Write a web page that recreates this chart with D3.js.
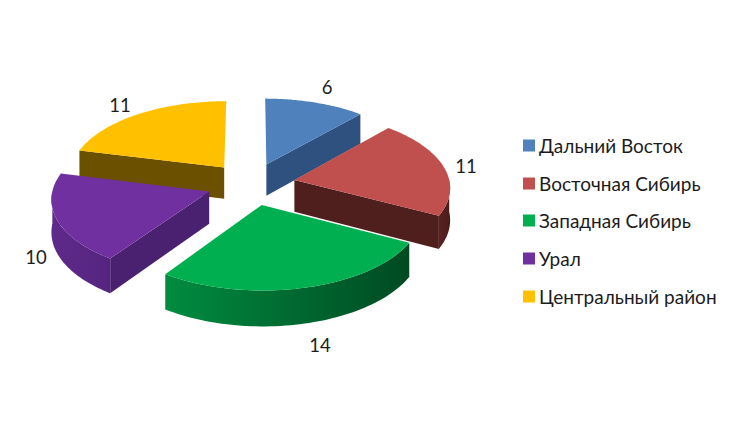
<!DOCTYPE html>
<html><head><meta charset="utf-8">
<script src="https://cdn.jsdelivr.net/npm/d3@7/dist/d3.min.js"></script>
<style>html,body{margin:0;padding:0;background:#fff}svg{display:block}text{font-family:Lato,"Noto Sans",sans-serif;fill:#1c1c1c}</style>
</head><body><svg id="c" width="732" height="438"></svg>
<script>
const categories = ["Дальний Восток","Восточная Сибирь","Западная Сибирь","Урал","Центральный район"];
const values = [6,11,14,10,11];
const topColors = ["#4f81bd","#c0504d","#00b050","#7030a0","#ffc000"];
const cutColors = ["#2f5180","#4f1f1e","#004f25","#4a2170","#6b5000"];
const arcColorsLeft = ["#2f5180","#5a2221","#008c40","#5f2a8a","#6b5000"];
const arcColorsRight = ["#2f5180","#4a1c1b","#004a22","#552480","#6b5000"];
const drawOrder = [0,4,1,3,2];
// layout
const view = {cx:251, cy:183.8, ax:155.5, ay:74.5, persp:0.085, explode:0.285, depth:32};
const labelAt = [[327,87],[466,166],[320,345],[36,257],[120,105]];
const legend = {sw:523, size:12, tx:539, ys:[145.5,183.5,220.5,258.5,296.5], font:19};

const svg = d3.select("#c");
const defs = svg.append("defs");
const project = (X,Z,drop=0)=>{
  const s = 1/(1+view.persp*Z);
  return [view.cx+X*view.ax*s, view.cy-Z*view.ay*s+drop*s];
};
const slices = d3.pie().sort(null).startAngle(0).endAngle(2*Math.PI)(values);
const line = d3.line();
slices.forEach((d,i)=>{d.i=i; const m=(d.startAngle+d.endAngle)/2;
  d.ox=view.explode*Math.sin(m); d.oz=view.explode*Math.cos(m);});
const rim=(d,a,drop=0)=>project(d.ox+Math.sin(a),d.oz+Math.cos(a),drop);
const apex=(d,drop=0)=>project(d.ox,d.oz,drop);
const sweep=(a,b)=>d3.range(0,61).map(k=>a+(b-a)*k/60);

drawOrder.forEach(idx=>{
  const d=slices[idx], g=svg.append("g");
  const a0=d.startAngle,a1=d.endAngle;
  // radial cut walls
  [a0,a1].forEach(a=>{
    const e=rim(d,a), p=apex(d);
    const facing = (a===a1 && a<Math.PI) || (a===a0 && a>Math.PI);
    if(facing) g.append("path").attr("d",line([p,e,rim(d,a,view.depth),apex(d,view.depth)])+"Z").attr("fill",cutColors[idx]);
  });
  // outer wall
  const w0=Math.max(a0,Math.PI/2), w1=Math.min(a1,1.5*Math.PI);
  if(w1>w0){
    const top=sweep(w0,w1).map(a=>rim(d,a));
    const bot=sweep(w1,w0).map(a=>rim(d,a,view.depth));
    const xs=top.map(p=>p[0]);
    const id="w"+idx;
    const gr=defs.append("linearGradient").attr("id",id).attr("gradientUnits","userSpaceOnUse")
      .attr("x1",d3.min(xs)).attr("x2",d3.max(xs)).attr("y1",0).attr("y2",0);
    gr.append("stop").attr("offset",0).attr("stop-color",arcColorsLeft[idx]);
    gr.append("stop").attr("offset",1).attr("stop-color",arcColorsRight[idx]);
    g.append("path").attr("d",line(top.concat(bot))+"Z").attr("fill",`url(#${id})`);
  }
  // top face
  g.append("path").attr("d",line([apex(d)].concat(sweep(a0,a1).map(a=>rim(d,a))))+"Z").attr("fill",topColors[idx]);
});

values.forEach((v,i)=>{
  svg.append("text").attr("x",labelAt[i][0]).attr("y",labelAt[i][1]).attr("text-anchor","middle")
    .attr("dominant-baseline","central").attr("font-size",18.5).text(v);
});
categories.forEach((c,i)=>{
  svg.append("rect").attr("x",legend.sw).attr("y",legend.ys[i]-legend.size/2).attr("width",legend.size).attr("height",legend.size).attr("fill",topColors[i]);
  svg.append("text").attr("x",legend.tx).attr("y",legend.ys[i]).attr("dominant-baseline","central").attr("font-size",legend.font).text(c);
});
</script></body></html>
